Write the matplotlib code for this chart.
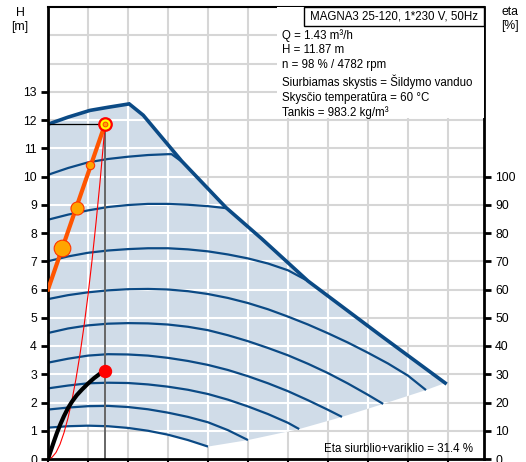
import matplotlib
matplotlib.use("Agg")
import matplotlib.pyplot as plt
from matplotlib.patches import Polygon, Rectangle
import numpy as np

plt.rcParams['font.family'] = ['Liberation Sans', 'DejaVu Sans']

# ---- data (Q in m3/h, H in m) ----
max_q = [0, 0.5, 1.05, 1.5, 2.03, 2.38, 3.34, 4.45, 5.34, 6.5, 8.3, 9.93]
max_h = [11.85, 12.1, 12.34, 12.45, 12.57, 12.17, 10.55, 8.9, 7.8, 6.3, 4.39, 2.69]

c1_q = [0, 0.5, 1.0, 1.5, 2.0, 2.5, 3.0, 3.5, 4.0]
c1_h = [1.11, 1.16, 1.18, 1.16, 1.1, 1.0, 0.86, 0.67, 0.44]
c2_q = [0, 0.5, 1, 1.5, 2, 2.5, 3, 3.5, 4, 4.5, 5]
c2_h = [1.75, 1.82, 1.87, 1.88, 1.84, 1.76, 1.64, 1.49, 1.3, 1.02, 0.67]
c3_q = [0, 0.5, 1, 1.5, 2, 2.5, 3, 3.5, 4, 4.5, 5, 5.5, 6, 6.28]
c3_h = [2.5, 2.6, 2.68, 2.7, 2.69, 2.64, 2.56, 2.45, 2.3, 2.1, 1.86, 1.59, 1.28, 1.06]
c4_q = [0, 0.5, 1, 1.5, 2, 2.5, 3, 3.5, 4, 4.5, 5, 5.5, 6, 6.5, 7, 7.35]
c4_h = [3.41, 3.55, 3.66, 3.71, 3.70, 3.66, 3.58, 3.47, 3.33, 3.15, 2.93, 2.68, 2.4, 2.08, 1.74, 1.49]
c5_q = [0, 0.5, 1, 1.5, 2, 2.5, 3, 3.5, 4, 4.5, 5, 5.5, 6, 6.5, 7, 7.5, 8, 8.38]
c5_h = [4.46, 4.62, 4.73, 4.79, 4.81, 4.8, 4.76, 4.68, 4.56, 4.38, 4.17, 3.93, 3.67, 3.37, 3.04, 2.67, 2.27, 1.95]
c6_q = [0, 0.5, 1, 1.5, 2, 2.5, 3, 3.5, 4, 4.5, 5, 5.5, 6, 6.5, 7, 7.5, 8, 8.5, 9, 9.45]
c6_h = [5.66, 5.8, 5.9, 5.97, 6.01, 6.02, 6.0, 5.94, 5.84, 5.7, 5.52, 5.3, 5.04, 4.76, 4.45, 4.12, 3.76, 3.38, 2.95, 2.44]
c7_q = [0, 0.5, 1, 1.5, 2, 2.5, 3, 3.5, 4, 4.5, 5, 5.5, 6, 6.5]
c7_h = [7.0, 7.17, 7.3, 7.38, 7.43, 7.46, 7.46, 7.42, 7.35, 7.24, 7.1, 6.92, 6.68, 6.3]
c8_q = [0, 0.5, 1, 1.5, 2, 2.5, 3, 3.5, 4, 4.45]
c8_h = [8.47, 8.65, 8.8, 8.92, 8.99, 9.03, 9.03, 9.0, 8.95, 8.88]
c9_q = [0, 0.5, 1, 1.5, 2, 2.5, 3, 3.09, 3.34]
c9_h = [10.06, 10.3, 10.5, 10.62, 10.7, 10.76, 10.79, 10.79, 10.53]

speed_curves = [(c1_q, c1_h), (c2_q, c2_h), (c3_q, c3_h), (c4_q, c4_h), (c5_q, c5_h),
                (c6_q, c6_h), (c7_q, c7_h), (c8_q, c8_h), (c9_q, c9_h)]

sys_q = [0, 0.1, 0.2, 0.3, 0.4, 0.5, 0.6, 0.7, 0.8, 0.9, 1.0, 1.1, 1.2, 1.3, 1.43]
sys_h = [0, 0.06, 0.23, 0.52, 0.93, 1.45, 2.09, 2.84, 3.71, 4.7, 5.8, 7.02, 8.36, 9.8, 11.87]

pow_q = [0, 0.05, 0.1, 0.16, 0.22, 0.3, 0.4, 0.5, 0.6, 0.72, 0.85, 1.0, 1.15, 1.3, 1.43]
pow_h = [0, 0.21, 0.42, 0.67, 0.91, 1.2, 1.52, 1.8, 2.03, 2.26, 2.46, 2.67, 2.86, 3.02, 3.13]

ctrl_q = [0, 1.43]
ctrl_h = [6.0, 11.87]
dots_q = [0.34, 0.72, 1.05]
dots_h = [7.46, 8.88, 10.41]
dots_size = [12, 9.4, 6]

op_q, op_h = 1.43, 11.87
op_p = 3.13

x_ticks = list(range(0, 11))
h_ticks = list(range(0, 14))
eta_ticks = list(range(0, 101, 10))

title_txt = "MAGNA3 25-120, 1*230 V, 50Hz"
info_lines = ["Q = 1.43 m³/h", "H = 11.87 m", "n = 98 % / 4782 rpm",
              "Siurbiamas skystis = Šildymo vanduo", "Skysčio temperatūra = 60 °C",
              "Tankis = 983.2 kg/m³"]
eta_txt = "Eta siurblio+variklio = 31.4 %"

# ---- figure ----
W, H = 526, 462
fig = plt.figure(figsize=(W / 100, H / 100), dpi=100)
ax = fig.add_axes([48 / W, 3 / H, 436 / W, 452 / H])
XMAX, YMAX = 10.9, 16.0
ax.set_xlim(0, XMAX)
ax.set_ylim(0, YMAX)

blue = '#0b4a85'
grid_c = '#d6d6d6'

# gray grid
for xv in range(1, 11):
    ax.axvline(xv, color=grid_c, lw=1.5, zorder=0.5)
for yv in range(1, 16):
    ax.axhline(yv, color=grid_c, lw=1.5, zorder=0.5)

# shaded operating area
lower_q = [9.45, 8.38, 7.35, 6.28, 5.0]
lower_h = [2.44, 1.95, 1.49, 1.06, 0.67]
poly = list(zip(max_q, max_h)) + list(zip(lower_q, lower_h)) + list(zip(c1_q[::-1], c1_h[::-1]))
patch = Polygon(poly, closed=True, facecolor='#d0dce8', edgecolor='none', zorder=1)
ax.add_patch(patch)
# white grid inside the area
vl = ax.vlines(range(1, 11), 0, YMAX, colors='white', lw=1.5, zorder=1.2)
hl = ax.hlines(range(1, 16), 0, XMAX, colors='white', lw=1.5, zorder=1.2)
vl.set_clip_path(patch)
hl.set_clip_path(patch)

for q, h in speed_curves:
    ax.plot(q, h, color=blue, lw=1.6, zorder=2, solid_capstyle='butt')
ax.plot(max_q, max_h, color=blue, lw=2.6, zorder=2.1, solid_joinstyle='miter')

# duty point lines
ax.plot([op_q, op_q], [0, op_h], color='#666666', lw=1.4, zorder=2.5, clip_on=False)
ax.plot([0, op_q], [op_h, op_h], color='black', lw=0.9, zorder=2.5)

ax.plot(sys_q, sys_h, color='red', lw=0.8, zorder=2.6)
ax.plot(pow_q, pow_h, color='black', lw=3, zorder=2.7, solid_capstyle='round')
ax.plot([op_q], [op_p], 'o', color='red', ms=8.6, mec='red', zorder=3)

ax.plot(ctrl_q, ctrl_h, color='#ff5500', lw=3, zorder=3)
for q, h, s in zip(dots_q, dots_h, dots_size):
    ax.plot([q], [h], 'o', ms=s, mfc='#ffa500', mec='#ff3300', mew=0.8, zorder=3.2)
ax.plot([op_q], [op_h], 'o', ms=9, mfc='#ffff00', mec='red', mew=1.6, zorder=3.3)
ax.plot([op_q], [op_h], 'o', ms=3.5, mfc='#ffa500', mec='#ff3300', mew=0.6, zorder=3.4)

# info boxes
x0 = (277 - 48) / 40
ax.add_patch(Rectangle((x0, (459 - 118) / 28.23), XMAX - x0, YMAX - (459 - 118) / 28.23,
                       facecolor='white', edgecolor='none', zorder=5))
tx0 = (304 - 48) / 40
ty0 = (459 - 26) / 28.23
ax.add_patch(Rectangle((tx0, ty0), XMAX - tx0, YMAX - ty0, facecolor='white',
                       edgecolor='black', lw=1.0, zorder=5.5, clip_on=False))
ax.text((tx0 + XMAX) / 2, (ty0 + YMAX) / 2, title_txt, ha='center', va='center',
        fontsize=8.3, zorder=6)
ax.text((282 - 48) / 40, (459 - 29) / 28.23, "\n".join(info_lines), ha='left', va='top',
        fontsize=8.3, linespacing=1.3, zorder=6)
ax.text((473 - 48) / 40, (459 - 449) / 28.23, eta_txt, ha='right', va='center',
        fontsize=8.3, zorder=6)

# axes styling
ax.set_xticks(x_ticks)
ax.tick_params(axis='x', direction='out', length=5, width=1.5, labelbottom=False)
ax.set_yticks(h_ticks)
ax.set_yticklabels([str(v) for v in h_ticks])
ax.tick_params(axis='y', direction='out', length=5, width=2, labelsize=8.8, pad=3)
for s in ['left', 'right', 'bottom']:
    ax.spines[s].set_linewidth(2)
ax.spines['top'].set_linewidth(1.5)

ax2 = ax.twinx()
ax2.set_ylim(0, 160)
ax2.set_yticks(eta_ticks)
ax2.set_yticklabels([str(v) for v in eta_ticks])
ax2.tick_params(axis='y', direction='out', length=5, width=2, labelsize=8.8, pad=3)
for s in ax2.spines.values():
    s.set_visible(False)

fig.text(20 / W, 1 - 20 / H, "H\n[m]", ha='center', va='center', fontsize=8.8, linespacing=1.15)
fig.text(510 / W, 1 - 19 / H, "eta\n[%]", ha='center', va='center', fontsize=8.8, linespacing=1.15)

fig.savefig('out.png', dpi=100)
